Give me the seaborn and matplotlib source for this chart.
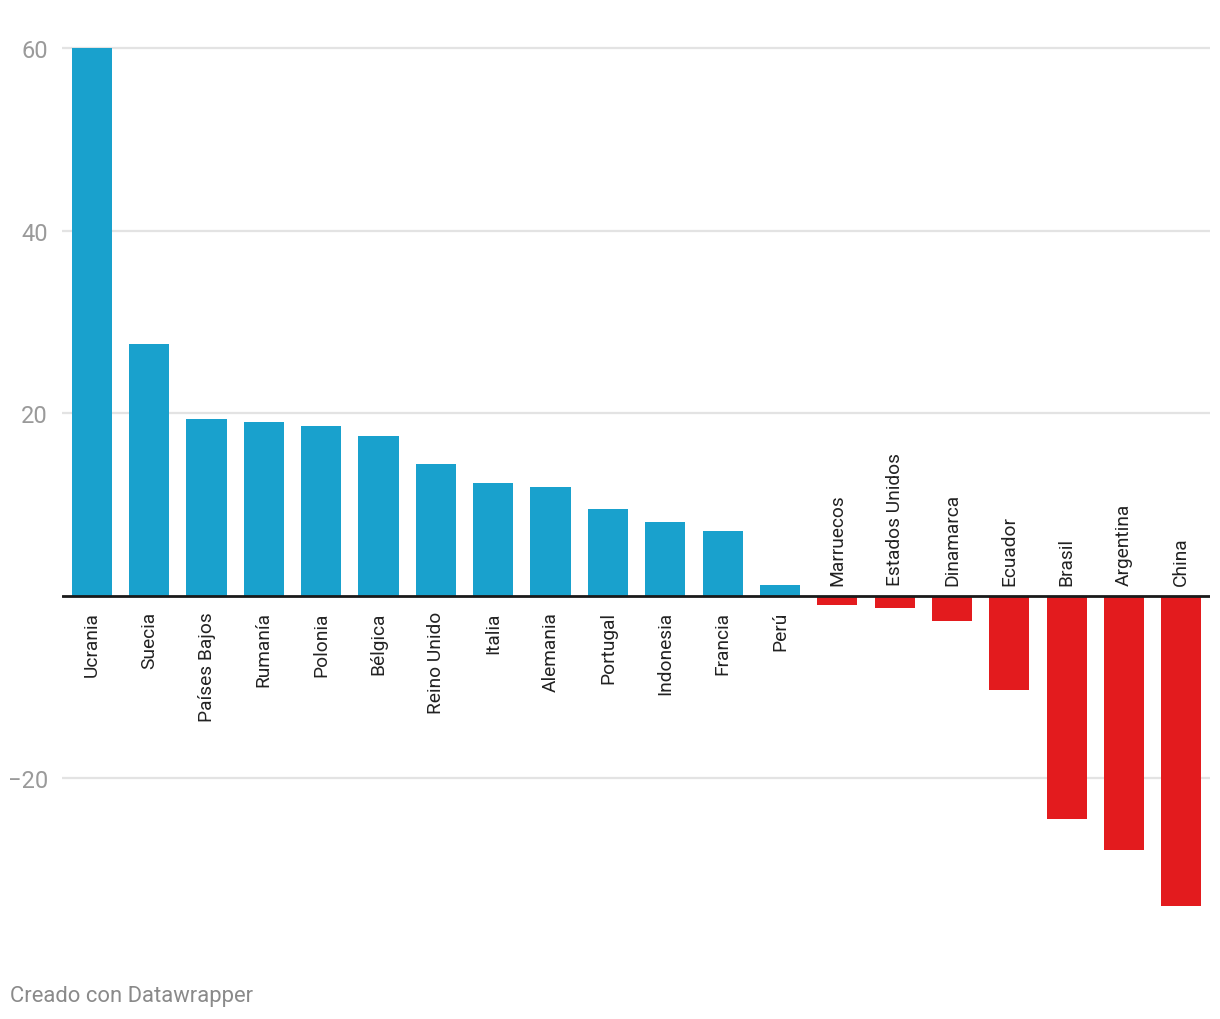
import pandas as pd
import matplotlib.pyplot as plt
import seaborn as sns

paises = ["Ucrania", "Suecia", "Países Bajos", "Rumanía", "Polonia", "Bélgica",
          "Reino Unido", "Italia", "Alemania", "Portugal", "Indonesia", "Francia",
          "Perú", "Marruecos", "Estados Unidos", "Dinamarca", "Ecuador", "Brasil",
          "Argentina", "China"]
valores = [60.0, 27.6, 19.4, 19.0, 18.6, 17.5, 14.4, 12.4, 11.9, 9.5, 8.1, 7.1,
           1.2, -1.0, -1.3, -2.7, -10.3, -24.4, -27.8, -34.0]
y_ticks = [-20, 20, 40, 60]

AZUL = "#19a1cd"
ROJO = "#e31b1e"

df = pd.DataFrame({"pais": paises, "valor": valores})
df["signo"] = ["pos" if v >= 0 else "neg" for v in df["valor"]]

sns.set_style("white")
plt.rcParams["font.family"] = ["Roboto", "DejaVu Sans"]

fig = plt.figure(figsize=(12.2, 10.2), dpi=100)
ax = fig.add_axes([62 / 1220, 0.0926, 1148 / 1220, 0.8682])

sns.barplot(data=df, x="pais", y="valor", hue="signo", palette={"pos": AZUL, "neg": ROJO},
            width=0.7, dodge=False, saturation=1, legend=False, ax=ax, zorder=3,
            linewidth=0, edgecolor="none")

ax.set_xlim(-0.52, len(paises) - 0.5)
ax.set_ylim(-36, 61)

# grid lines, zero baseline
for t in y_ticks:
    ax.axhline(t, color="#e3e3e3", linewidth=1.6, zorder=1)
ax.axhline(0, color="#1a1a1a", linewidth=2, zorder=4)

ax.set_yticks(y_ticks)
ax.set_yticklabels([str(t).replace("-", "\u2212") if t < 0 else str(t) for t in y_ticks])
ax.tick_params(axis="y", length=0, pad=10, labelsize=17, labelcolor="#9a9a9a")
ax.set_xticks([])
ax.set_xlabel("")
ax.set_ylabel("")
for s in ax.spines.values():
    s.set_visible(False)

# category labels next to the baseline
for i, (p, v) in enumerate(zip(paises, valores)):
    if v >= 0:
        ax.annotate(p, xy=(i, 0), xytext=(0, -11), textcoords="offset points",
                    rotation=90, ha="center", va="top", fontsize=13.8, color="#222222")
    else:
        ax.annotate(p, xy=(i, 0), xytext=(0, 8), textcoords="offset points",
                    rotation=90, ha="center", va="bottom", fontsize=13.8, color="#222222")

fig.text(10 / 1220, 1 - 997 / 1020, "Creado con Datawrapper", ha="left", va="center",
         fontsize=15.8, color="#8a8a8a")

fig.savefig("out.png", dpi=100)
